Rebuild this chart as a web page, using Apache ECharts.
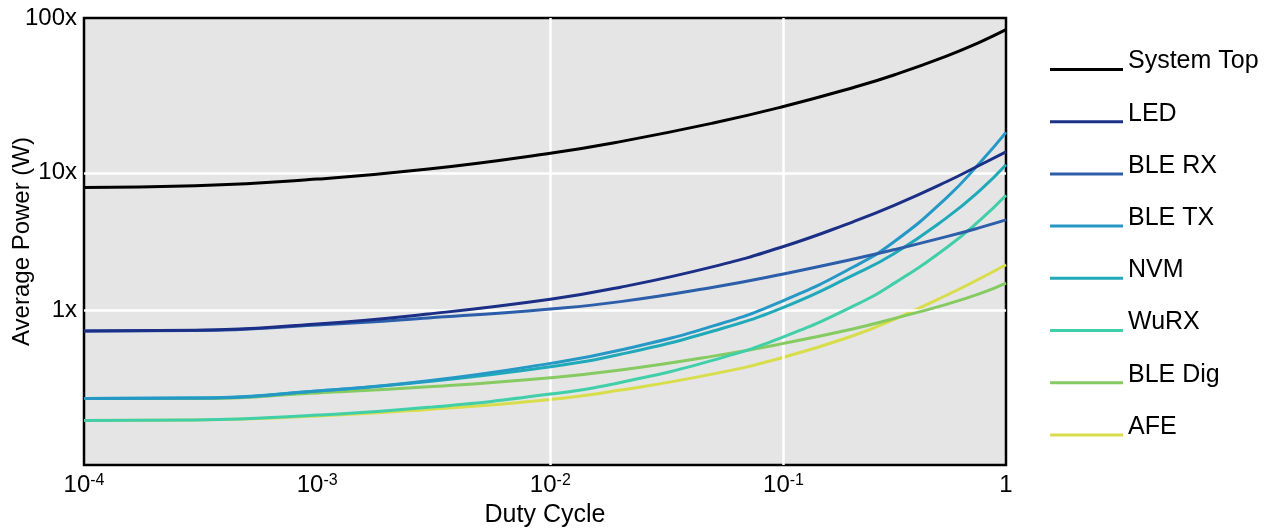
<!DOCTYPE html>
<html>
<head>
<meta charset="utf-8">
<script src="https://cdn.jsdelivr.net/npm/echarts@6/dist/echarts.min.js"></script>
<style>
  html, body { margin: 0; padding: 0; background: #ffffff; }
  #chart { width: 1277px; height: 529px; }
</style>
</head>
<body>
<div id="chart"></div>
<script>
// Duty cycle sample points (log-spaced)
const dutyCycle = [1e-4, 3e-4, 1e-3, 3e-3, 1e-2, 2e-2, 5e-2, 0.1, 0.2, 0.3, 0.5, 0.7, 0.9];

// Average power per block at each duty cycle
const systemTop = [7.81, 8.04, 8.995, 10.64, 13.88, 16.87, 23.06, 30.42, 41.87, 51.84, 70.85, 90.1, 110.4];
const led       = [0.703, 0.711, 0.790, 0.935, 1.197, 1.465, 2.07, 2.90, 4.41, 5.81, 8.60, 11.44, 14.2];
const bleRx     = [0.703, 0.708, 0.777, 0.874, 1.017, 1.150, 1.465, 1.831, 2.349, 2.755, 3.422, 3.996, 4.531];
const bleTx     = [0.2267, 0.228, 0.2564, 0.305, 0.408, 0.5105, 0.7652, 1.171, 2.064, 3.168, 6.569, 11.97, 19.69];
const nvm       = [0.2267, 0.228, 0.2564, 0.301, 0.386, 0.475, 0.703, 1.046, 1.80, 2.59, 4.69, 7.51, 11.44];
const wurx      = [0.1566, 0.158, 0.1713, 0.195, 0.2437, 0.2962, 0.4307, 0.6363, 1.0695, 1.575, 2.844, 4.547, 6.852];
const bleDig    = [0.2267, 0.226, 0.2482, 0.275, 0.3205, 0.3648, 0.4607, 0.5705, 0.7302, 0.8684, 1.099, 1.319, 1.569];
const afe       = [0.1566, 0.158, 0.1684, 0.1884, 0.2222, 0.2606, 0.342, 0.4516, 0.6514, 0.8583, 1.280, 1.703, 2.134];

const seriesNames  = ['System Top', 'LED', 'BLE RX', 'BLE TX', 'NVM', 'WuRX', 'BLE Dig', 'AFE'];
const seriesValues = [systemTop, led, bleRx, bleTx, nvm, wurx, bleDig, afe];
const seriesColors = ['#000000', '#1b2f86', '#2c5eaa', '#2598c6', '#20aab9', '#40cfa9', '#86ca62', '#d8dd4a'];

// Axis extents and the ticks that carry white grid lines / labels
const X_MIN = 1e-4, X_MAX = 0.9;
const Y_MIN = 0.0741, Y_MAX = 134.3;
const xGridTicks = [1e-3, 1e-2, 1e-1];
const yGridTicks = [1, 10];
const yTickLabels = { '0': '1x', '1': '10x' };
const xEdgeLabel = '1';
const yEdgeLabel = '100x';

const FONT = "'Liberation Sans', Arial, sans-serif";

function near(a, b) { return Math.abs(a - b) / b < 1e-6; }

const pairs = (vals) => dutyCycle.map((d, i) => [d, vals[i]]);

// curves are drawn bottom-most legend entry first so "System Top" ends on top
const curveSeries = seriesNames.map((name, i) => ({
  name: name,
  type: 'line',
  data: pairs(seriesValues[i]),
  showSymbol: false,
  symbol: 'none',
  smooth: 0.5,
  z: 3 + (seriesNames.length - i),
  lineStyle: { color: seriesColors[i], width: 3 },
  itemStyle: { color: seriesColors[i] },
  emphasis: { disabled: true }
})).reverse();

const gridLineSeries = {
  type: 'line',
  data: [],
  silent: true,
  z: 1,
  markLine: {
    silent: true,
    symbol: 'none',
    label: { show: false },
    lineStyle: { color: '#ffffff', width: 2.5, type: 'solid' },
    data: xGridTicks.map(v => ({ xAxis: v })).concat(yGridTicks.map(v => ({ yAxis: v })))
  }
};

const chart = echarts.init(document.getElementById('chart'), null, { renderer: 'canvas' });

chart.setOption({
  animation: false,
  backgroundColor: '#ffffff',
  textStyle: { fontFamily: FONT },
  grid: {
    left: 84, right: 271, top: 18, bottom: 64,
    outerBoundsMode: 'none',
    containLabel: false,
    show: true,
    backgroundColor: '#e5e5e5',
    borderColor: '#000000',
    borderWidth: 2.5
  },
  legend: {
    orient: 'vertical',
    left: 1045,
    top: 44,
    padding: 5,
    itemWidth: 73,
    itemHeight: 3,
    itemGap: 11.2,
    icon: 'rect',
    selectedMode: false,
    data: seriesNames,
    formatter: function (name) { return '{t|' + name + '}'; },
    textStyle: {
      fontFamily: FONT, fontSize: 25, color: '#000000',
      rich: { t: { fontFamily: FONT, fontSize: 25, color: '#000000', lineHeight: 24, padding: [0, 0, 16, 0] } }
    }
  },
  xAxis: {
    type: 'log',
    logBase: 10,
    min: X_MIN,
    max: X_MAX,
    name: 'Duty Cycle',
    nameLocation: 'middle',
    nameGap: 38,
    nameMoveOverlap: false,
    nameTextStyle: { fontFamily: FONT, fontSize: 25, color: '#000000' },
    axisLine: { show: false },
    axisTick: { show: false },
    splitLine: { show: false },
    axisLabel: {
      show: true,
      margin: 8,
      color: '#000000',
      fontFamily: FONT,
      fontSize: 24,
      showMinLabel: true,
      showMaxLabel: true,
      formatter: function (value) {
        if (near(value, X_MAX)) return '{n|' + xEdgeLabel + '}';
        const e = Math.round(Math.log10(value));
        return '{n|10}{s|' + e + '}';
      },
      rich: {
        n: { fontFamily: FONT, fontSize: 24, color: '#000000' },
        s: { fontFamily: FONT, fontSize: 16, color: '#000000', verticalAlign: 'top' }
      }
    }
  },
  yAxis: {
    type: 'log',
    logBase: 10,
    min: Y_MIN,
    max: Y_MAX,
    name: 'Average Power (W)',
    nameLocation: 'middle',
    nameGap: 50,
    nameMoveOverlap: false,
    nameRotate: 90,
    nameTextStyle: { fontFamily: FONT, fontSize: 24, color: '#000000' },
    axisLine: { show: false },
    axisTick: { show: false },
    splitLine: { show: false },
    axisLabel: {
      show: true,
      margin: 7,
      color: '#000000',
      fontFamily: FONT,
      fontSize: 24,
      showMinLabel: true,
      showMaxLabel: true,
      formatter: function (value) {
        if (near(value, Y_MAX)) return yEdgeLabel;
        const e = Math.log10(value);
        const r = Math.round(e);
        if (Math.abs(e - r) < 1e-6 && yTickLabels[String(r)]) return yTickLabels[String(r)];
        return '';
      }
    }
  },
  series: [gridLineSeries].concat(curveSeries)
});
</script>
</body>
</html>
